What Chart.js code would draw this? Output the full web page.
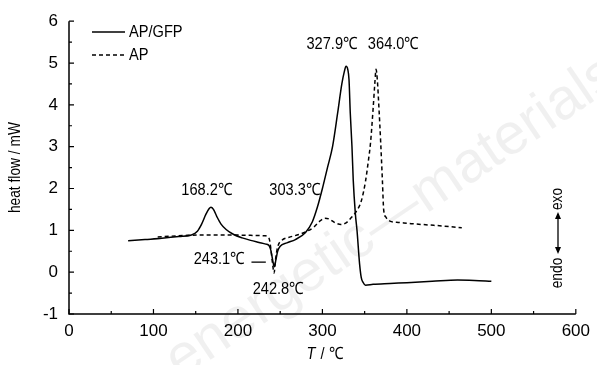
<!DOCTYPE html>
<html>
<head>
<meta charset="utf-8">
<script src="https://cdn.jsdelivr.net/npm/chart.js@4.4.0/dist/chart.umd.min.js"></script>
<style>
  html, body { margin: 0; padding: 0; background: #fff; }
  canvas { display: block; }
</style>
</head>
<body>
<canvas id="dsc" width="597" height="365"></canvas>
<script>
// AP/GFP (solid)
const tempGFP = [70, 90, 110, 130, 145, 152, 157, 162, 166, 168, 171, 175, 180, 186, 195, 205, 215, 225, 233, 237, 239, 241, 243, 245, 247, 250, 258, 268, 280, 288, 294, 300, 306, 312, 318, 323, 326, 328, 330, 331.5, 333, 335, 336.5, 339, 341, 344, 346, 348, 351, 360, 380, 400, 430, 460, 480, 500];
const flowGFP = [0.75, 0.78, 0.81, 0.85, 0.89, 0.98, 1.15, 1.38, 1.52, 1.55, 1.5, 1.33, 1.15, 1.02, 0.9, 0.82, 0.76, 0.71, 0.67, 0.63, 0.52, 0.3, 0.13, 0.3, 0.5, 0.62, 0.7, 0.78, 0.95, 1.2, 1.55, 2.0, 2.5, 3.0, 3.8, 4.5, 4.8, 4.92, 4.85, 4.6, 3.8, 3.0, 2.2, 1.4, 0.99, 0.2, -0.13, -0.24, -0.31, -0.29, -0.27, -0.25, -0.22, -0.19, -0.2, -0.22];

// AP (dashed)
const tempAP = [105, 120, 140, 160, 190, 215, 232, 237, 239, 241, 242.8, 244.5, 247, 252, 260, 272, 282, 290, 297, 303, 308, 315, 322, 328, 334, 340, 346, 351, 354, 357, 360, 362, 363.5, 365, 367, 369, 371, 372.5, 375, 380, 390, 405, 425, 445, 465];
const flowAP = [0.84, 0.86, 0.88, 0.89, 0.89, 0.88, 0.87, 0.8, 0.55, 0.2, -0.02, 0.3, 0.6, 0.76, 0.83, 0.9, 0.98, 1.08, 1.22, 1.29, 1.27, 1.18, 1.14, 1.18, 1.3, 1.45, 1.7, 2.17, 2.6, 3.1, 3.9, 4.5, 4.85, 4.6, 3.9, 3.1, 2.2, 1.5, 1.32, 1.22, 1.19, 1.16, 1.13, 1.1, 1.06];

const seriesNames = ['AP/GFP', 'AP'];
const xTicks = [0, 100, 200, 300, 400, 500, 600];
const yTicks = [-1, 0, 1, 2, 3, 4, 5, 6];
const peakTexts = ['168.2\u2103', '303.3\u2103', '327.9\u2103', '364.0\u2103', '243.1\u2103', '242.8\u2103'];

const FONT = "'Liberation Sans', Arial, sans-serif";

const toPoints = (xs, ys) => xs.map((t, i) => ({ x: t, y: ys[i] }));

// squeeze text a little, the original uses a condensed face
function narrowText(ctx, text, px, py, align) {
  ctx.save();
  ctx.translate(px, py);
  ctx.scale(0.86, 1);
  ctx.textAlign = align || 'center';
  ctx.fillText(text, 0, 0);
  ctx.restore();
}

const decor = {
  id: 'decor',
  beforeDatasetsDraw(chart) {
    const { ctx } = chart;
    // faint watermark
    ctx.save();
    ctx.translate(392, 218);
    ctx.rotate(-34 * Math.PI / 180);
    ctx.font = "58px 'Liberation Sans', Arial, sans-serif";
    ctx.fillStyle = 'rgba(0,0,0,0.06)';
    ctx.textAlign = 'center';
    ctx.textBaseline = 'middle';
    ctx.fillText('energetic\u2014materials', 0, 0);
    ctx.restore();
  },
  afterDraw(chart) {
    const { ctx, chartArea: a, scales: { x, y } } = chart;
    ctx.save();
    ctx.strokeStyle = '#000';
    ctx.fillStyle = '#000';
    ctx.lineWidth = 1.5;
    ctx.setLineDash([]);
    ctx.beginPath();
    ctx.moveTo(a.left, a.top);
    ctx.lineTo(a.left, a.bottom);
    ctx.lineTo(a.right, a.bottom);
    ctx.stroke();

    ctx.lineWidth = 1.2;
    ctx.beginPath();
    for (let v = 0; v <= 600; v += 50) {
      const px = x.getPixelForValue(v);
      const len = v % 100 === 0 ? 5 : 3;
      ctx.moveTo(px, a.bottom);
      ctx.lineTo(px, a.bottom - len);
    }
    for (let v = -1; v <= 6; v += 0.5) {
      const py = y.getPixelForValue(v);
      const len = Number.isInteger(v) ? 5 : 3;
      ctx.moveTo(a.left, py);
      ctx.lineTo(a.left + len, py);
    }
    ctx.stroke();

    // axis titles
    ctx.textBaseline = 'middle';
    const cx = (a.left + a.right) / 2 + 2;
    ctx.font = 'italic 17px ' + FONT;
    narrowText(ctx, 'T', cx - 18, 354, 'left');
    ctx.font = '17px ' + FONT;
    narrowText(ctx, ' / \u2103', cx - 8, 354, 'left');

    ctx.save();
    ctx.translate(16, (a.top + a.bottom) / 2);
    ctx.rotate(-Math.PI / 2);
    ctx.font = '16px ' + FONT;
    narrowText(ctx, 'heat flow / mW', 0, 0);
    ctx.restore();

    // legend
    ctx.font = '17px ' + FONT;
    const ds = chart.data.datasets;
    const rows = [32, 55];
    ds.forEach((d, i) => {
      ctx.beginPath();
      ctx.lineWidth = 1.5;
      ctx.setLineDash(d.borderDash || []);
      ctx.moveTo(92, rows[i]);
      ctx.lineTo(125, rows[i]);
      ctx.stroke();
      ctx.setLineDash([]);
      narrowText(ctx, d.label, 129, rows[i], 'left');
    });

    // peak annotations anchored to data coordinates
    ctx.font = '17px ' + FONT;
    const notes = [
      [peakTexts[0], 168, 1.95, -4],
      [peakTexts[1], 303, 1.95, -30],
      [peakTexts[2], 328, 5.45, -14],
      [peakTexts[3], 364, 5.45, 17],
      [peakTexts[4], 243, 0.3, -55],
      [peakTexts[5], 243, -0.4, 4]
    ];
    notes.forEach(([t, vx, vy, dx]) => {
      narrowText(ctx, t, x.getPixelForValue(vx) + dx, y.getPixelForValue(vy));
    });
    // short pointer for 243.1
    ctx.lineWidth = 1.3;
    ctx.beginPath();
    const py = y.getPixelForValue(0.24);
    ctx.moveTo(x.getPixelForValue(216), py);
    ctx.lineTo(x.getPixelForValue(233), py);
    ctx.stroke();

    // endo <-> exo
    ctx.save();
    ctx.translate(558, 0);
    ctx.rotate(-Math.PI / 2);
    ctx.font = '16px ' + FONT;
    narrowText(ctx, 'exo', -199, 0);
    narrowText(ctx, 'endo', -273, 0);
    ctx.lineWidth = 1.3;
    ctx.beginPath();
    ctx.moveTo(-214, 0);
    ctx.lineTo(-252, 0);
    ctx.stroke();
    ctx.beginPath();
    ctx.moveTo(-212, 0); ctx.lineTo(-219, -3); ctx.lineTo(-219, 3); ctx.closePath();
    ctx.moveTo(-254, 0); ctx.lineTo(-247, -3); ctx.lineTo(-247, 3); ctx.closePath();
    ctx.fill();
    ctx.restore();

    ctx.restore();
  }
};

new Chart(document.getElementById('dsc'), {
  type: 'scatter',
  data: {
    datasets: [
      {
        label: seriesNames[0],
        data: toPoints(tempGFP, flowGFP),
        showLine: true,
        borderColor: '#000',
        borderWidth: 1.5,
        pointRadius: 0,
        cubicInterpolationMode: 'monotone'
      },
      {
        label: seriesNames[1],
        data: toPoints(tempAP, flowAP),
        showLine: true,
        borderColor: '#000',
        borderWidth: 1.5,
        borderDash: [4, 3],
        pointRadius: 0,
        cubicInterpolationMode: 'monotone'
      }
    ]
  },
  options: {
    responsive: false,
    animation: false,
    layout: { autoPadding: false, padding: { top: 18, right: 11, left: 0, bottom: 0 } },
    plugins: { legend: { display: false }, tooltip: { enabled: false } },
    scales: {
      x: {
        type: 'linear', min: 0, max: 600,
        afterBuildTicks: s => { s.ticks = xTicks.map(v => ({ value: v })); },
        afterFit: s => { s.height = 51; },
        grid: { display: false, drawTicks: false },
        border: { display: false },
        ticks: { color: '#000', padding: 7, font: { family: FONT, size: 17 } }
      },
      y: {
        type: 'linear', min: -1, max: 6,
        afterBuildTicks: s => { s.ticks = yTicks.map(v => ({ value: v })); },
        afterFit: s => { s.width = 69; },
        grid: { display: false, drawTicks: false },
        border: { display: false },
        ticks: { color: '#000', padding: 11, font: { family: FONT, size: 17 } }
      }
    }
  },
  plugins: [decor]
});
</script>
</body>
</html>
